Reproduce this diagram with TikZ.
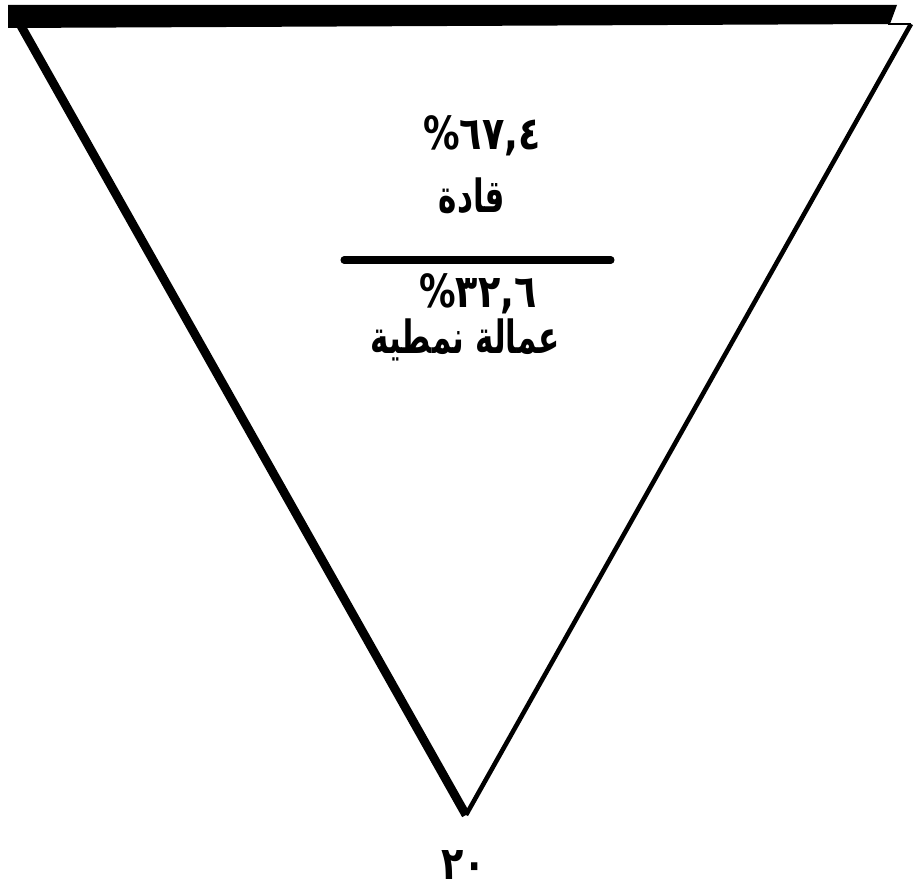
\documentclass[tikz,border=0pt]{standalone}
\usepackage{fontspec}
\newfontfamily\arabicfont[Script=Arabic,FakeStretch=0.8]{DejaVu Sans}
\newfontfamily\arabicword[Script=Arabic,FakeStretch=0.68]{DejaVu Sans}
\TeXXeTstate=1
\usepackage{tikz}
\usetikzlibrary{calc}

\begin{document}
\begin{tikzpicture}[>=stealth]
  \useasboundingbox (0,0) rectangle (9.15,8.86);
  \tikzset{lbl/.style={font=\arabicfont\bfseries\fontsize{13}{15}\selectfont,inner sep=0pt,anchor=base},
    wrd/.style={lbl,font=\arabicword\bfseries\fontsize{13}{15}\selectfont}}
  \coordinate (L) at (0.12,8.76);
  \coordinate (R) at (9.11,8.62);
  \coordinate (V) at (4.66,0.71);
  % top edge
  \fill (0.08,8.81)--(8.97,8.81)--(8.90,8.62)--(0.08,8.58)--cycle;
  \draw[line width=0.45pt] (8.88,8.62)--(R);
  \draw[line width=1.3pt,line join=miter] (R)--(V);
  \draw[line width=2.5pt] (L)--(V);
  % labels
  \node[lbl] (p1) at (4.82,7.36) {\mbox{\%}\mbox{٦٧,٤}};
  \node[wrd] (t1) at (4.72,6.73) {\beginR قادة\endR};
  \draw[line width=2pt,line cap=round] (3.44,6.26)--(6.11,6.26);
  \node[lbl] (p2) at (4.78,5.78) {\mbox{\%}\mbox{٣٢,٦}};
  \node[wrd] (t2) at (4.65,5.32) {\beginR عمالة نمطية\endR};
  \node[lbl] (pg) at (4.64,0.07) {٢٠};
\end{tikzpicture}
\end{document}
